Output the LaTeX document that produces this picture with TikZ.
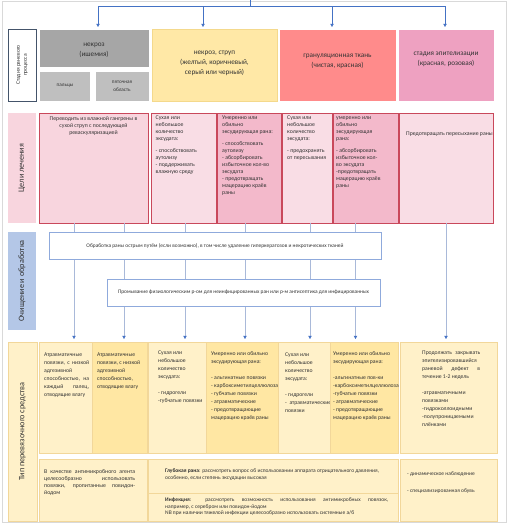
\documentclass[tikz,border=0pt]{standalone}
\usepackage{fontspec}
\setmainfont{Carlito}
\usetikzlibrary{arrows.meta}

\definecolor{necgray}{HTML}{A6A6A6}
\definecolor{subgray}{HTML}{BFBFBF}
\definecolor{necyel}{HTML}{FFE8A6}
\definecolor{necyelline}{HTML}{F4D98C}
\definecolor{granred}{HTML}{FF8B8B}
\definecolor{epipink}{HTML}{EEA1C1}
\definecolor{slate}{HTML}{44546A}
\definecolor{goalbig}{HTML}{F8D5DE}
\definecolor{goallight}{HTML}{F9DDE5}
\definecolor{goaldark}{HTML}{F3B9CB}
\definecolor{goalline}{HTML}{C9485B}
\definecolor{cleanlbl}{HTML}{B4C7E7}
\definecolor{cleanline}{HTML}{8FAADC}
\definecolor{dresslight}{HTML}{FFF1C9}
\definecolor{dressdark}{HTML}{FFE7A3}
\definecolor{dressline}{HTML}{F2D79A}
\definecolor{feedline}{HTML}{A9B9D9}
\definecolor{arrowblue}{HTML}{4472C4}
\definecolor{textdark}{HTML}{333333}
\definecolor{framegray}{HTML}{D9D9D9}

\newcommand\stagefont{\fontsize{7.2}{10}\selectfont}
\newcommand\cellfont{\fontsize{5.2}{8}\selectfont}
\newcommand\sidesmall{\fontsize{5.6}{7}\selectfont}
\newcommand\sidebig{\fontsize{8.2}{9}\selectfont}
\newcommand\goalfont{\fontsize{5.8}{7}\selectfont}
\newcommand\cleanfont{\fontsize{5.4}{6}\selectfont}
\newcommand\dressfont{\fontsize{5.7}{8}\selectfont}
\newcommand\notefont{\fontsize{5.5}{6.2}\selectfont}

\tikzset{
  cell/.style={anchor=north west,inner sep=0pt,outer sep=0pt},
  stagecell/.style={cell,draw=white,line width=0.8pt},
  goalcell/.style={cell,draw=goalline,line width=0.6pt,minimum height=110pt},
  dresscell/.style={cell,draw=dressline,line width=0.4pt},
  cleancell/.style={cell,fill=white,draw=cleanline,line width=0.6pt,minimum height=27pt},
  sidelabel/.style={rotate=90,align=center,text=textdark,inner sep=0pt},
  stagetext/.style={align=center,text=textdark,inner sep=0pt,font=\stagefont},
  goaltext/.style={anchor=north west,align=left,inner sep=0pt,text=textdark,font=\goalfont},
  dresstext/.style={anchor=north west,align=left,inner sep=0pt,text=textdark,font=\dressfont},
  notetext/.style={anchor=north west,align=left,inner sep=0pt,text=textdark,font=\notefont},
  feed/.style={draw=feedline,line width=0.5pt,
    -{Triangle[length=3.2pt,width=3.4pt,color=arrowblue]},shorten >=3pt},
  topfeed/.style={draw=arrowblue,line width=0.6pt,
    -{Triangle[length=3.2pt,width=3.4pt]},shorten >=2pt},
}

\begin{document}
\begin{tikzpicture}[x=1pt,y=-1pt]
  \useasboundingbox (0,0) rectangle (509,526);
  \draw[framegray,line width=0.5pt] (2,1) rectangle (506,522);

  % stages of the wound process
  \node[cell,draw=slate,fill=white,line width=0.7pt,minimum width=28pt,minimum height=72pt] (stagelbl) at (8,29) {};
  \node[sidelabel,font=\sidesmall] (stagelbl-t) at (stagelbl.center) {Стадия раневого\\процесса};
  \node[stagecell,fill=necgray,minimum width=110pt,minimum height=38pt] (necgray) at (39,29) {};
  \node[stagetext,yshift=-2pt] (necgray-t) at (necgray.center) {некроз\\(ишемия)};
  \node[stagecell,fill=subgray,minimum width=51pt,minimum height=30pt] (fingers) at (39.5,71) {};
  \node[stagetext,font=\cellfont] (fingers-t) at (fingers.center) {пальцы};
  \node[stagecell,fill=subgray,minimum width=54pt,minimum height=30pt] (heel) at (95,71) {};
  \node[stagetext,font=\cellfont] (heel-t) at (heel.center) {пяточная\\область};
  \node[stagecell,fill=necyel,draw=necyelline,minimum width=125pt,minimum height=72pt] (necyel) at (152,29) {};
  \node[stagetext,yshift=2pt] (necyel-t) at (necyel.center) {некроз, струп\\(желтый, коричневый,\\серый или черный)};
  \node[stagecell,fill=granred,minimum width=117pt,minimum height=72pt] (gran) at (279,29) {};
  \node[stagetext,yshift=3.5pt] (gran-t) at (gran.center) {грануляционная ткань\\(чистая, красная)};
  \node[stagecell,fill=epipink,minimum width=96pt,minimum height=72pt] (epi) at (398,29) {};
  \node[stagetext,yshift=6pt] (epi-t) at (epi.center) {стадия эпителизации\\(красная, розовая)};

  % arrows from the top
  \coordinate (src) at (250,0);
  \coordinate (hub) at (250,6);
  \draw[arrowblue,line width=0.6pt] (src) -- (hub);
  \draw[topfeed] (hub) -| ([xshift=4pt]necgray.north);
  \draw[topfeed] (hub) -| ([xshift=-11.5pt]necyel.north);
  \draw[topfeed] (hub) -| ([xshift=-5.5pt]gran.north);
  \draw[topfeed] (hub) -| ([xshift=-1pt]epi.north);

  % goals of treatment
  \node[cell,fill=goalbig,minimum width=28pt,minimum height=110pt] (goallbl) at (8,113) {};
  \node[sidelabel,font=\sidebig] (goallbl-t) at (goallbl.center) {Цели лечения};
  \node[goalcell,fill=goalbig,line width=0.9pt,minimum width=109pt] (goalnec) at (39,113) {};
  \node[goaltext,anchor=north,align=center] (goalnec-t) at (93.5,116) {Переводить из влажной гангрены в\\сухой струп с последующей\\реваскуляризацией};
  \node[goalcell,fill=goallight,minimum width=65pt] (goaldry1) at (151,113) {};
  \node[goaltext] (goaldry1-t) at (155.5,116) {Сухая или\\небольшое\\количество\\эксудата:\\[5pt]- способствовать\\аутолизу\\- поддерживать\\влажную среду};
  \node[goalcell,fill=goaldark,minimum width=64pt] (goalwet1) at (217,113) {};
  \node[goaltext] (goalwet1-t) at (222,116) {Умеренно или\\обильно\\эксудирующая рана:\\[5pt]- способствовать\\аутолизу\\- абсорбировать\\избыточное кол-во\\эксудата\\- предотвращать\\мацерацию краёв\\раны};
  \node[goalcell,fill=goallight,minimum width=50pt] (goaldry2) at (282,113) {};
  \node[goaltext] (goaldry2-t) at (287,116) {Сухая или\\небольшое\\количество\\эксудата:\\[5pt]- предохранять\\от пересыхания};
  \node[goalcell,fill=goaldark,minimum width=65pt] (goalwet2) at (333,113) {};
  \node[goaltext] (goalwet2-t) at (336,116) {умеренно или\\обильно\\эксудирующая\\рана:\\[5pt]- абсорбировать\\избыточное кол-\\во эксудата\\-предотвращать\\мацерацию краёв\\раны};
  \node[goalcell,fill=goallight,minimum width=94pt] (goalepi) at (399,113) {};
  \node[goaltext] (goalepi-t) at (406,132) {Предотвращать пересыхание раны};

  % type of dressing
  \node[dresscell,fill=dresslight,minimum width=29pt,minimum height=179pt] (dresslbl) at (8,342) {};
  \node[sidelabel,font=\sidebig] (dresslbl-t) at (dresslbl.center) {Тип перевязочного средства};
  \node[dresscell,fill=dresslight,minimum width=53pt,minimum height=111pt] (dressA) at (39,342) {};
  \node[dresstext,text width=45pt,align=justify] (dressA-t) at (44,353) {Атравматичные\linebreak повязки, с низкой\linebreak адгезивной\linebreak способностью, на\linebreak каждый палец,\linebreak отводящие влагу};
  \node[dresscell,fill=dressdark,minimum width=55pt,minimum height=111pt] (dressB) at (92,342) {};
  \node[dresstext] (dressB-t) at (97,353) {Атравматичные\\повязки, с низкой\\адгезивной\\способностью,\\отводящие влагу};
  \node[dresscell,fill=dresslight,minimum width=58pt,minimum height=111pt] (dressC) at (148,342) {};
  \node[dresstext] (dressC-t) at (158,351) {Сухая или\\небольшое\\количество\\эксудата:\\[8pt]- гидрогели\\-губчатые повязки};
  \node[dresscell,fill=dressdark,minimum width=72pt,minimum height=111pt] (dressD) at (206,342) {};
  \node[dresstext] (dressD-t) at (211,351) {Умеренно или обильно\\эксудирующая рана:\\[8pt]- альгинатные повязки\\- карбоксиметилцеллюлоза\\- губчатые повязки\\- атравматические\\- предотвращающие\\мацерацию краёв раны};
  \node[dresscell,fill=dresslight,minimum width=52pt,minimum height=111pt] (dressE) at (278,342) {};
  \node[dresstext] (dressE-t) at (285,353) {Сухая или\\небольшое\\количество\\эксудата:\\[8pt]- гидрогели\\-\ \ атравматические\\повязки};
  \node[dresscell,fill=dressdark,minimum width=68pt,minimum height=111pt] (dressF) at (330,342) {};
  \node[dresstext] (dressF-t) at (333,351) {Умеренно или обильно\\эксудирующая рана:\\[8pt]-альгинатные пов-ки\\-карбоксиметилцеллюлоза\\-губчатые повязки\\- атравматические\\- предотвращающие\\мацерацию краёв раны};
  \node[dresscell,fill=dresslight,minimum width=97pt,minimum height=111pt] (dressG) at (400,342) {};
  \node[dresstext,text width=58pt,align=justify] (dressG-t) at (422,351) {Продолжать закрывать\linebreak эпителизировавшийся\linebreak раневой дефект в\linebreak течение 1-2 недель\\[8pt]-атравматичными\\повязками\\-гидроколлоидными\\-полупроницаемыми\\плёнками};
  \node[dresscell,fill=dresslight,minimum width=108pt,minimum height=62pt] (dressH) at (39,459) {};
  \node[notetext,text width=91pt,align=justify,font=\fontsize{5.8}{7}\selectfont] (dressH-t) at (44,469) {В качестве антимикробного агента\linebreak целесообразно использовать\linebreak повязки, пропитанные повидон-\linebreak йодом};
  \node[dresscell,fill=dresslight,minimum width=250pt,minimum height=34pt] (dressI) at (148,459) {};
  \node[notetext] (dressI-t) at (165,469) {\textbf{Глубокая рана}: рассмотреть вопрос об использовании аппарата отрицательного давления,\\особенно, если степень эксудации высокая};
  \node[dresscell,fill=dresslight,minimum width=250pt,minimum height=28pt] (dressJ) at (148,493) {};
  \node[notetext,text width=223pt,align=justify] (dressJ-t) at (165,498) {\textbf{Инфекция}: рассмотреть возможность использования антимикробных повязок,\linebreak например, с серебром или повидон-йодом\\NB при наличии тяжелой инфекции целесообразно использовать системные а/б};
  \node[dresscell,fill=dresslight,minimum width=97pt,minimum height=62pt] (dressK) at (400,459) {};
  \node[notetext] (dressK-t) at (407,472) {- динамическое наблюдение\\[10pt]- специализированная обувь};

  % feeds from goals to dressings
  \coordinate (feedA) at ([xshift=8.5pt]dressA.north);
  \coordinate (feedB) at ([xshift=4.5pt]dressB.north);
  \coordinate (feedC) at ([xshift=1.5pt]goaldry1.south);
  \coordinate (feedD) at ([xshift=-4pt]goalwet1.south);
  \coordinate (feedE) at ([xshift=3pt]goaldry2.south);
  \coordinate (feedF) at ([xshift=-10pt]goalwet2.south);
  \draw[feed] (feedA |- goalnec.south) -- (feedA);
  \draw[feed] (feedB |- goalnec.south) -- (feedB);
  \draw[feed] (feedC) -- (feedC |- dressC.north);
  \draw[feed] (feedD) -- (feedD |- dressD.north);
  \draw[feed] (feedE) -- (feedE |- dressE.north);
  \draw[feed] (feedF) -- (feedF |- dressF.north);
  \draw[feed] (goalepi.south) -- (goalepi.south |- dressG.north);

  % cleansing and treatment
  \node[cell,fill=cleanlbl,minimum width=28pt,minimum height=98pt] (cleanlbl) at (8,232) {};
  \node[sidelabel,font=\sidebig] (cleanlbl-t) at (cleanlbl.center) {Очищение и обработка};
  \node[cleancell,minimum width=332pt] (clean1) at (49,232) {};
  \node[inner sep=0pt,text=textdark,font=\cleanfont] (clean1-t) at (clean1.center) {Обработка раны острым путём (если возможно), в том числе удаление гиперкератозов и некротических тканей};
  \node[cleancell,minimum width=273pt] (clean2) at (107,279) {};
  \node[inner sep=0pt,text=textdark,font=\cleanfont] (clean2-t) at (clean2.center) {Промывание физиологическим р-ом для неинфицированных ран или р-м антисептика для инфицированных};
\end{tikzpicture}
\end{document}
